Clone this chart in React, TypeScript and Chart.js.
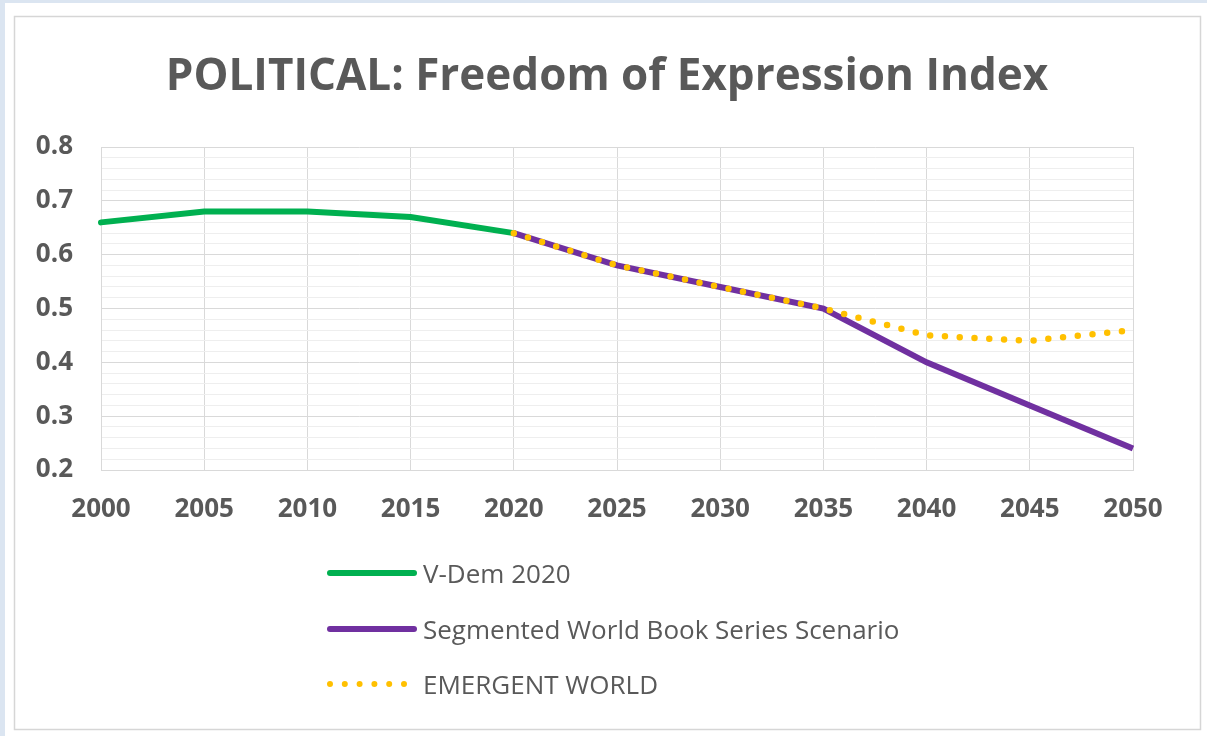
import React, { useEffect, useRef } from "react";
import { Chart, registerables } from "chart.js";

Chart.register(...registerables);

const TITLE = "POLITICAL: Freedom of Expression Index";
const YEARS = ["2000", "2005", "2010", "2015", "2020", "2025", "2030", "2035", "2040", "2045", "2050"];
const VDEM = [0.66, 0.68, 0.68, 0.67, 0.64, null, null, null, null, null, null];
const SEGMENTED = [null, null, null, null, 0.64, 0.58, 0.54, 0.5, 0.4, 0.32, 0.24];
const EMERGENT = [null, null, null, null, 0.64, 0.58, 0.54, 0.5, 0.45, 0.44, 0.46];
const SERIES_NAMES = ["V-Dem 2020", "Segmented World Book Series Scenario", "EMERGENT WORLD"];
const SERIES_COLORS = ["#00B050", "#7030A0", "#FFC000"];
const Y_MIN = 0.2;
const Y_MAX = 0.8;
const Y_MINOR_STEP = 0.02;

const TEXT_COLOR = "#595959";
const FONT = "'Open Sans', sans-serif";

const isMajor = (v: number) => Math.abs(v * 10 - Math.round(v * 10)) < 1e-6;

const framePlugin = {
  id: "frame",
  beforeDraw(chart: any) {
    const ctx = chart.ctx;
    ctx.save();
    ctx.fillStyle = "#dbe5f1";
    ctx.fillRect(0, 0, chart.width, chart.height);
    ctx.fillStyle = "#ffffff";
    ctx.fillRect(5, 3, chart.width - 5, chart.height - 3);
    ctx.strokeStyle = "#d6d6d6";
    ctx.lineWidth = 1.5;
    ctx.strokeRect(14.5, 16.5, 1186, 713);
    ctx.restore();
  },
  afterDraw(chart: any) {
    const ctx = chart.ctx;
    ctx.save();
    // title
    ctx.fillStyle = TEXT_COLOR;
    ctx.font = `bold 44px ${FONT}`;
    ctx.textAlign = "center";
    ctx.textBaseline = "alphabetic";
    ctx.fillText(TITLE, 607, 90);
    // legend
    const rows = [583, 639, 694];
    const lineY = [573, 629, 684];
    chart.data.datasets.forEach((ds: any, i: number) => {
      ctx.beginPath();
      ctx.strokeStyle = ds.borderColor;
      ctx.lineWidth = 6;
      ctx.lineCap = "round";
      if (ds.borderDash && ds.borderDash.length) {
        ctx.setLineDash(ds.borderDash);
        ctx.moveTo(330, lineY[i]);
        ctx.lineTo(408, lineY[i]);
      } else {
        ctx.setLineDash([]);
        ctx.moveTo(330, lineY[i]);
        ctx.lineTo(414, lineY[i]);
      }
      ctx.stroke();
      ctx.setLineDash([]);
      ctx.fillStyle = TEXT_COLOR;
      ctx.font = `26px ${FONT}`;
      ctx.textAlign = "left";
      ctx.textBaseline = "alphabetic";
      ctx.fillText(ds.label, 423, rows[i]);
    });
    ctx.restore();
  },
};

export default function App() {
  const ref = useRef<HTMLCanvasElement | null>(null);

  useEffect(() => {
    document.body.style.margin = "0";
    if (!ref.current) return;
    const chart = new Chart(ref.current, {
      type: "line",
      data: {
        labels: YEARS,
        datasets: [
          {
            label: SERIES_NAMES[0],
            data: VDEM,
            borderColor: SERIES_COLORS[0],
            borderWidth: 6,
            pointRadius: 0,
            tension: 0,
            order: 2,
            borderCapStyle: "round",
          },
          {
            label: SERIES_NAMES[1],
            data: SEGMENTED,
            borderColor: SERIES_COLORS[1],
            borderWidth: 6,
            pointRadius: 0,
            tension: 0,
            order: 1,
            borderCapStyle: "butt",
          },
          {
            label: SERIES_NAMES[2],
            data: EMERGENT,
            borderColor: SERIES_COLORS[2],
            borderWidth: 6.5,
            borderDash: [0, 14.8],
            borderCapStyle: "round",
            pointRadius: 0,
            tension: 0,
            order: 0,
          },
        ],
      } as any,
      options: {
        responsive: false,
        animation: false,
        layout: { padding: { left: 0, top: 147, right: 74, bottom: 0 } },
        plugins: {
          legend: { display: false },
          title: { display: false },
          tooltip: { enabled: false },
        },
        scales: {
          x: {
            type: "category",
            offset: false,
            grid: { color: "#d9d9d9", drawTicks: false, lineWidth: 1 },
            border: { color: "#d9d9d9" },
            ticks: {
              color: TEXT_COLOR,
              font: { family: FONT, weight: "bold", size: 26 },
              padding: 24,
              maxRotation: 0,
              autoSkip: false,
            },
            afterFit(scale: any) {
              scale.height = 266;
            },
          },
          y: {
            min: Y_MIN,
            max: Y_MAX,
            grid: {
              drawTicks: false,
              color: (c: any) => (isMajor(c.tick.value) ? "#d9d9d9" : "#eeeeee"),
              lineWidth: 1,
            },
            border: { color: "#d9d9d9" },
            ticks: {
              stepSize: Y_MINOR_STEP,
              autoSkip: false,
              color: TEXT_COLOR,
              font: { family: FONT, weight: "bold", size: 26 },
              padding: 28,
              callback: (v: any) => (isMajor(Number(v)) ? Number(v).toFixed(1) : ""),
            },
            afterFit(scale: any) {
              scale.width = 101;
            },
          },
        },
      } as any,
      plugins: [framePlugin],
    });
    return () => chart.destroy();
  }, []);

  return (
    <div style={{ width: 1207, height: 736 }}>
      <canvas ref={ref} width={1207} height={736} style={{ display: "block", width: 1207, height: 736 }} />
    </div>
  );
}
